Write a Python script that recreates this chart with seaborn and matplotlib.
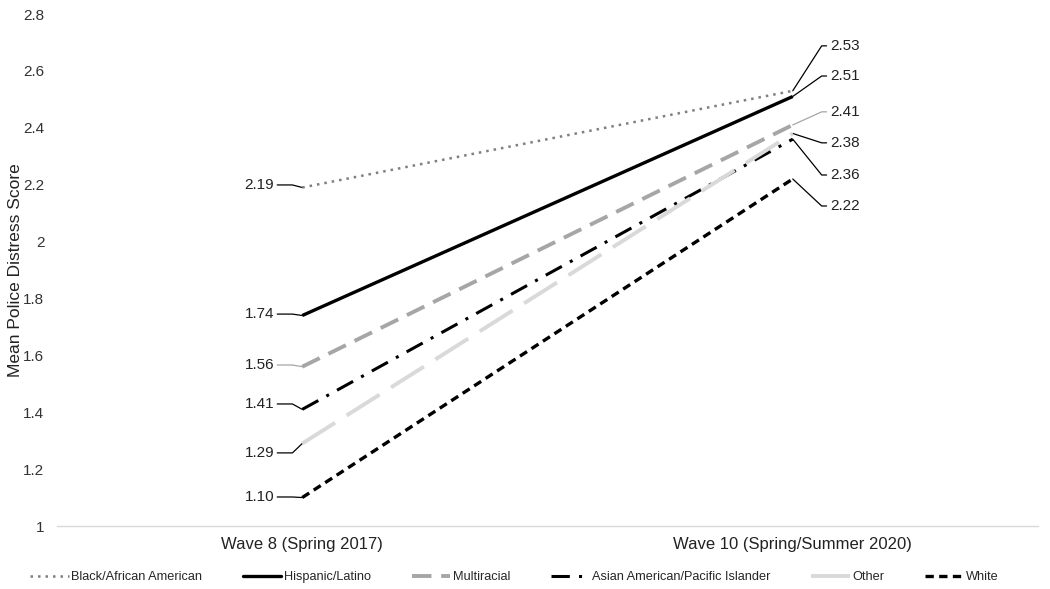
import matplotlib
matplotlib.use("Agg")
import matplotlib.pyplot as plt
import seaborn as sns
import pandas as pd
from matplotlib.lines import Line2D

sns.set_theme(style="white")
plt.rcParams['font.family'] = ['Liberation Sans', 'DejaVu Sans']

waves = ["Wave 8 (Spring 2017)", "Wave 10 (Spring/Summer 2020)"]
groups = ["Black/African American", "Hispanic/Latino", "Multiracial",
          "Asian American/Pacific Islander", "Other", "White"]
wave8 = [2.19, 1.74, 1.56, 1.41, 1.29, 1.10]
wave10 = [2.53, 2.51, 2.41, 2.36, 2.38, 2.22]

# label placement (layout only)
left_label_y = [2.199, 1.745, 1.566, 1.429, 1.257, 1.102]
right_label_y = [2.688, 2.582, 2.456, 2.234, 2.347, 2.125]

colors = ["#7f7f7f", "#000000", "#a6a6a6", "#000000", "#d9d9d9", "#000000"]
dashes = [(1, 2), "", (5, 2.5), (6, 3, 1, 3), (10, 3.5), (2.5, 1.6)]
widths = [1.8, 2.4, 2.8, 2.2, 2.8, 2.4]
leader_colors = ["#000000", "#000000", "#a6a6a6", "#000000", "#000000", "#000000"]

rows = []
for g, a, b in zip(groups, wave8, wave10):
    rows.append({"group": g, "x": 0, "score": a})
    rows.append({"group": g, "x": 1, "score": b})
df = pd.DataFrame(rows)

fig = plt.figure(figsize=(10.5, 5.89), dpi=100)
ax = fig.add_axes([57 / 1050, 1 - 526 / 589, (1038 - 57) / 1050, (526 - 14) / 589])

sns.lineplot(data=df, x="x", y="score", hue="group", style="group",
             hue_order=groups, style_order=groups,
             palette=dict(zip(groups, colors)),
             dashes=dict(zip(groups, dashes)),
             legend=False, ax=ax, estimator=None, sort=False)

for line, w in zip(ax.lines, widths):
    line.set_linewidth(w)
    line.set_solid_capstyle("butt")
    line.set_dash_capstyle("butt")

# labels with leader lines
for v, ly, lc in zip(wave8, left_label_y, leader_colors):
    ax.plot([-0.051, -0.02, 0], [ly, ly, v], color=lc, lw=0.9, zorder=1)
    ax.text(-0.057, ly, f"{v:.2f}", ha="right", va="center", fontsize=11, color="#222222")
for v, ly, lc in zip(wave10, right_label_y, leader_colors):
    ax.plot([1.0, 1.059, 1.069], [v, ly, ly], color=lc, lw=0.9, zorder=1)
    ax.text(1.0755, ly, f"{v:.2f}", ha="left", va="center", fontsize=11, color="#222222")

ax.set_xlim(-0.5, 1.5)
ax.set_ylim(1, 2.8)
ax.set_xticks([0, 1])
ax.set_xticklabels(waves, fontsize=12, color="#222222")
ax.set_yticks([1, 1.2, 1.4, 1.6, 1.8, 2, 2.2, 2.4, 2.6, 2.8])
ax.set_yticklabels(["1", "1.2", "1.4", "1.6", "1.8", "2", "2.2", "2.4", "2.6", "2.8"],
                   fontsize=11, color="#333333")
ax.tick_params(axis="y", length=0, pad=9)
ax.tick_params(axis="x", length=0, pad=8)
ax.set_xlabel("")
ax.set_ylabel("Mean Police Distress Score", fontsize=12.5, color="#222222")
ax.yaxis.set_label_coords(-0.035, 0.5)
for s in ["top", "right", "left"]:
    ax.spines[s].set_visible(False)
ax.spines["bottom"].set_color("#d9d9d9")
ax.spines["bottom"].set_linewidth(1)

handles = [Line2D([0], [0], color=c, lw=w, dashes=d) if d != ""
           else Line2D([0], [0], color=c, lw=w)
           for c, d, w in zip(colors, dashes, widths)]
fig.legend(handles, groups, loc="center", bbox_to_anchor=(0.49, 1 - 577 / 589),
           ncol=6, frameon=False, fontsize=9.2, handlelength=3.0, handletextpad=0.2,
           columnspacing=3.2)

fig.savefig("out.png", dpi=100)
